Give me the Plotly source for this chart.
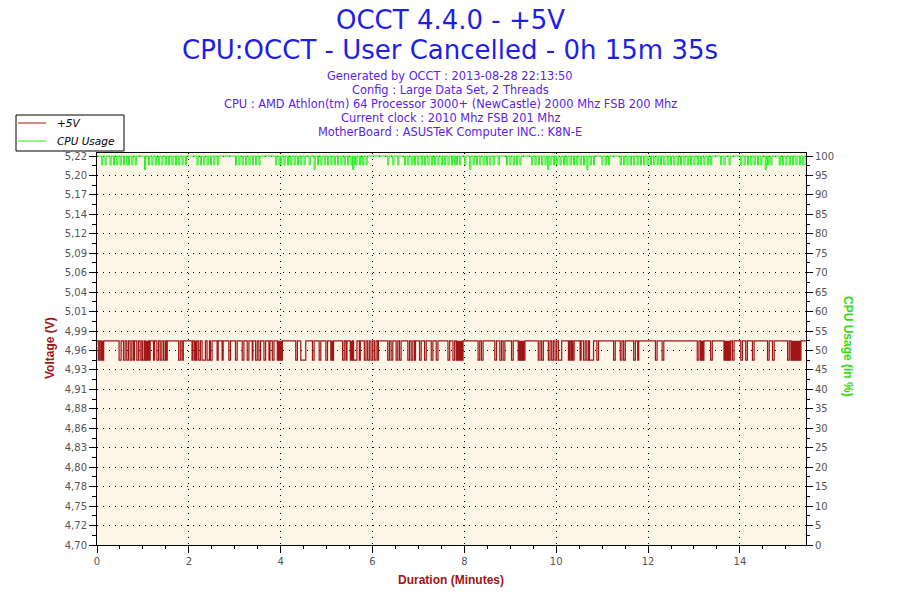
import numpy as np
import plotly.graph_objects as go

duration_end = 15.44  # minutes shown on the x axis

volt_high = 4.973
volt_low = 4.947

# minutes where the +5V reading drops to the low step (start, end)
volt_dips = [
    (0.029, 0.058), (0.087, 0.146), (0.481, 0.525), (0.576, 0.612), (0.648, 0.685),
    (0.721, 0.758), (0.794, 0.816), (0.867, 0.903), (0.940, 0.976), (0.998, 1.035),
    (1.049, 1.122), (1.137, 1.158), (1.231, 1.253), (1.304, 1.341), (1.377, 1.413),
    (1.450, 1.486), (1.508, 1.530), (1.778, 1.814), (1.851, 1.880), (2.069, 2.091),
    (2.127, 2.178), (2.215, 2.251), (2.288, 2.361), (2.397, 2.448), (2.470, 2.506),
    (2.616, 2.638), (2.725, 2.747), (2.871, 2.907), (3.016, 3.053), (3.162, 3.199),
    (3.271, 3.308), (3.381, 3.395), (3.453, 3.490), (3.526, 3.563), (3.636, 3.672),
    (3.745, 3.767), (3.818, 3.854), (3.927, 4.036), (4.328, 4.364), (4.437, 4.546),
    (4.692, 4.728), (4.838, 4.874), (4.984, 5.020), (5.093, 5.151), (5.348, 5.384),
    (5.421, 5.443), (5.516, 5.567), (5.588, 5.661), (5.712, 5.734), (5.822, 5.858),
    (5.894, 5.931), (5.967, 6.004), (6.040, 6.077), (6.113, 6.128), (6.332, 6.368),
    (6.405, 6.441), (6.514, 6.550), (6.587, 6.623), (6.769, 6.805), (6.842, 6.878),
    (6.915, 6.936), (7.024, 7.060), (7.133, 7.170), (7.279, 7.315), (7.388, 7.425),
    (7.643, 7.680), (7.752, 7.789), (7.825, 7.971), (8.299, 8.335), (8.372, 8.408),
    (8.663, 8.700), (8.772, 8.809), (8.845, 8.882), (9.027, 9.064), (9.173, 9.319),
    (9.610, 9.647), (9.683, 9.720), (9.829, 9.865), (9.902, 9.938), (9.975, 10.011),
    (10.047, 10.120), (10.266, 10.288), (10.317, 10.339), (10.361, 10.390), (10.521, 10.543),
    (10.594, 10.631), (10.667, 10.704), (10.725, 10.813), (10.886, 10.922), (11.250, 11.286),
    (11.396, 11.432), (11.469, 11.505), (11.687, 11.724), (11.775, 11.797), (12.161, 12.197),
    (12.307, 12.343), (13.072, 13.108), (13.144, 13.217), (13.363, 13.399), (13.654, 13.800),
    (13.837, 13.873), (14.019, 14.055), (14.128, 14.164), (14.274, 14.310), (14.602, 14.638),
    (14.711, 14.747), (15.039, 15.075), (15.112, 15.330),
]
# stretches where the switching is so fast the band looks solid
volt_dense = [
    (0.087, 0.146), (1.049, 1.122), (2.127, 2.178), (3.927, 4.036), (5.093, 5.151),
    (5.516, 5.567), (7.825, 7.971), (9.173, 9.319), (13.144, 13.217), (13.654, 13.800),
    (15.112, 15.330),
]

cpu_full = 100
cpu_dip_value = 97.7
cpu_deep_value = 96.5
cpu_dips = [
    0.102, 0.175, 0.284, 0.357, 0.430, 0.503, 0.576, 0.648, 0.685, 0.758, 0.831,
    1.122, 1.195, 1.268, 1.341, 1.413, 1.486, 1.559, 1.632, 1.705, 1.778, 1.851, 1.923,
    2.178, 2.251, 2.324, 2.397, 2.470, 2.543, 2.616, 3.016, 3.089, 3.162, 3.235, 3.308,
    3.381, 3.453, 3.526, 3.891, 3.963, 4.000, 4.073, 4.146, 4.218, 4.291, 4.364, 4.437,
    4.510, 4.619, 4.801, 4.874, 4.947, 5.020, 5.093, 5.166, 5.239, 5.311, 5.384, 5.457,
    5.530, 5.603, 5.639, 5.712, 5.785, 5.858, 6.331, 6.441, 6.550, 6.696, 6.768, 6.841,
    6.914, 6.987, 7.060, 7.133, 7.206, 7.279, 7.351, 7.424, 7.497, 7.570, 7.643, 7.716,
    7.788, 7.825, 7.898, 8.007, 8.190, 8.262, 8.335, 8.408, 8.481, 8.554, 8.627, 8.736,
    8.918, 8.991, 9.064, 9.137, 9.210, 9.465, 9.538, 9.610, 9.683, 9.756, 9.865, 9.938,
    10.011, 10.084, 10.157, 10.230, 10.303, 10.375, 10.448, 10.521, 10.594, 10.740,
    10.813, 10.995, 11.068, 11.140, 11.395, 11.468, 11.541, 11.614, 11.687, 11.760,
    11.833, 11.905, 11.978, 12.051, 12.124, 12.197, 12.270, 12.343, 12.415, 12.488,
    12.561, 12.634, 12.707, 12.780, 12.853, 12.925, 12.998, 13.071, 13.144, 13.217,
    13.290, 13.363, 13.581, 13.654, 13.764, 14.018, 14.091, 14.164, 14.237, 14.310,
    14.383, 14.456, 14.601, 14.674, 14.856, 14.929, 15.002, 15.075, 15.148, 15.221,
    15.294, 15.367, 15.439,
]
cpu_deep = [1.035, 4.728, 5.566, 8.117, 9.814, 10.667, 14.550]

volt_ticktext = [
    "4,70", "4,72", "4,75", "4,78", "4,80", "4,83", "4,86", "4,88", "4,91", "4,93", "4,96",
    "4,99", "5,01", "5,04", "5,06", "5,09", "5,12", "5,14", "5,17", "5,20", "5,22",
]
volt_tick_span = [4.70, 5.22]
cpu_tick_span = [0, 100]

title_lines = ["OCCT 4.4.0 - +5V", "CPU:OCCT - User Cancelled - 0h 15m 35s"]
info_lines = [
    "Generated by OCCT : 2013-08-28 22:13:50",
    "Config : Large Data Set, 2 Threads",
    "CPU : AMD Athlon(tm) 64 Processor 3000+ (NewCastle) 2000 Mhz FSB 200 Mhz",
    "Current clock : 2010 Mhz FSB 201 Mhz",
    "MotherBoard : ASUSTeK Computer INC.: K8N-E",
]

VOLT_COLOR = "#A01515"
CPU_COLOR = "#22EE22"
TICK_FONT = dict(family="DejaVu Sans", size=10, color="#555555")
GRID_DASH = "1px,5px"
HEADROOM = 392 / 389  # the plot box runs a few pixels above the top tick


def step_series(intervals, base, low, end):
    """Build an hv step line that sits at base and drops to low on each interval."""
    xs, ys = [0], [base]
    for s, e in intervals:
        xs += [s, e]
        ys += [low, base]
    xs.append(end)
    ys.append(base)
    return xs, ys


fig = go.Figure()

# +5V
vx, vy = step_series(volt_dips, volt_high, volt_low, duration_end)
fig.add_trace(go.Scatter(x=vx, y=vy, mode="lines", name="+5V", showlegend=False,
                         line=dict(color=VOLT_COLOR, width=1.2, shape="hv")))

fx, fy = [], []
for s, e in volt_dense:
    fx += [s, s, e, e, None]
    fy += [volt_low, volt_high, volt_high, volt_low, None]
fig.add_trace(go.Scatter(x=fx, y=fy, mode="lines", fill="toself", fillcolor=VOLT_COLOR,
                         line=dict(color=VOLT_COLOR, width=0), showlegend=False,
                         hoverinfo="skip"))

# CPU usage
dip_w = 0.025
events = sorted([(t, cpu_dip_value) for t in cpu_dips] + [(t, cpu_deep_value) for t in cpu_deep])
cx, cy = [0], [cpu_full]
for t, v in events:
    cx += [t, t + dip_w]
    cy += [v, cpu_full]
cx.append(duration_end)
cy.append(cpu_full)
fig.add_trace(go.Scatter(x=cx, y=cy, mode="lines", name="CPU Usage", yaxis="y2",
                         showlegend=False,
                         line=dict(color=CPU_COLOR, width=1, shape="hv")))

volt_tickvals = list(np.linspace(volt_tick_span[0], volt_tick_span[1], len(volt_ticktext)))
volt_minor = [(a + b) / 2 for a, b in zip(volt_tickvals[:-1], volt_tickvals[1:])]
volt_range = [volt_tick_span[0],
              volt_tick_span[0] + (volt_tick_span[1] - volt_tick_span[0]) * HEADROOM]
cpu_range = [cpu_tick_span[0], cpu_tick_span[1] * HEADROOM]

fig.update_layout(
    width=900, height=600,
    margin=dict(l=89, r=102, t=145, b=63),
    paper_bgcolor="white",
    plot_bgcolor="#FDF6E8",
    showlegend=False,
    xaxis=dict(
        range=[0, duration_end], tickvals=[0, 2, 4, 6, 8, 10, 12, 14],
        showline=True, linecolor="black", linewidth=1, mirror=True,
        ticks="outside", ticklen=7, tickcolor="black",
        minor=dict(dtick=0.5, ticks="outside", ticklen=3, tickcolor="black", showgrid=False),
        showgrid=True, gridcolor="black", griddash=GRID_DASH, gridwidth=1,
        zeroline=False, tickfont=TICK_FONT,
    ),
    yaxis=dict(
        range=volt_range, tickvals=volt_tickvals, ticktext=volt_ticktext,
        showline=True, linecolor="black", linewidth=1,
        ticks="outside", ticklen=7, tickcolor="black",
        minor=dict(tickvals=volt_minor, ticks="outside", ticklen=4, tickcolor="black",
                   showgrid=False),
        showgrid=True, gridcolor="black", griddash=GRID_DASH, gridwidth=1,
        zeroline=False, tickfont=TICK_FONT,
    ),
    yaxis2=dict(
        range=cpu_range, tickvals=list(range(0, 101, 5)), overlaying="y", side="right",
        showline=True, linecolor="black", linewidth=1,
        ticks="outside", ticklen=6, tickcolor="black",
        minor=dict(dtick=2.5, ticks="outside", ticklen=3, tickcolor="black", showgrid=False),
        showgrid=False, zeroline=False, tickfont=TICK_FONT,
    ),
)


def px_x(px):
    return (px - 97) / 709


def px_y(py):
    return (545 - py) / 392


# legend box drawn by hand so it matches the compact OCCT legend
fig.add_shape(type="rect", xref="paper", yref="paper", layer="above",
              x0=px_x(16), x1=px_x(124), y0=px_y(151), y1=px_y(115),
              line=dict(color="black", width=1), fillcolor="white")
for name, color, py in [("+5V", VOLT_COLOR, 123), ("CPU Usage", CPU_COLOR, 141)]:
    fig.add_shape(type="line", xref="paper", yref="paper", layer="above",
                  x0=px_x(18), x1=px_x(46), y0=px_y(py), y1=px_y(py),
                  line=dict(color=color, width=1))
    fig.add_annotation(text=name, x=px_x(55), y=px_y(py), xref="paper", yref="paper",
                       xanchor="left", yanchor="middle", showarrow=False,
                       font=dict(family="DejaVu Sans", size=10.5, color="black",
                                 style="italic"))

# titles
for text, py in zip(title_lines, [20, 50]):
    fig.add_annotation(text=text, x=px_x(450), y=px_y(py), xref="paper", yref="paper",
                       xanchor="center", yanchor="middle", showarrow=False,
                       font=dict(family="DejaVu Sans", size=26, color="#1E1EE8"))
for i, line in enumerate(info_lines):
    fig.add_annotation(text=line, x=px_x(450), y=px_y(76 + 14 * i), xref="paper", yref="paper",
                       xanchor="center", yanchor="middle", showarrow=False,
                       font=dict(family="DejaVu Sans", size=11.4, color="#5A22EE"))

# axis titles
axis_font = dict(family="Liberation Sans", size=12, color=VOLT_COLOR, weight="bold")
fig.add_annotation(text="Duration (Minutes)", x=px_x(451), y=px_y(580),
                   xref="paper", yref="paper", xanchor="center", yanchor="middle",
                   showarrow=False, font=axis_font)
fig.add_annotation(text="Voltage (V)", x=px_x(50), y=px_y(348),
                   xref="paper", yref="paper", xanchor="center", yanchor="middle",
                   showarrow=False, textangle=-90, font=axis_font)
fig.add_annotation(text="CPU Usage (in %)", x=px_x(848), y=px_y(347),
                   xref="paper", yref="paper", xanchor="center", yanchor="middle",
                   showarrow=False, textangle=90,
                   font=dict(family="Liberation Sans", size=12, color="#33DD11", weight="bold"))

fig.write_html("out.html")
